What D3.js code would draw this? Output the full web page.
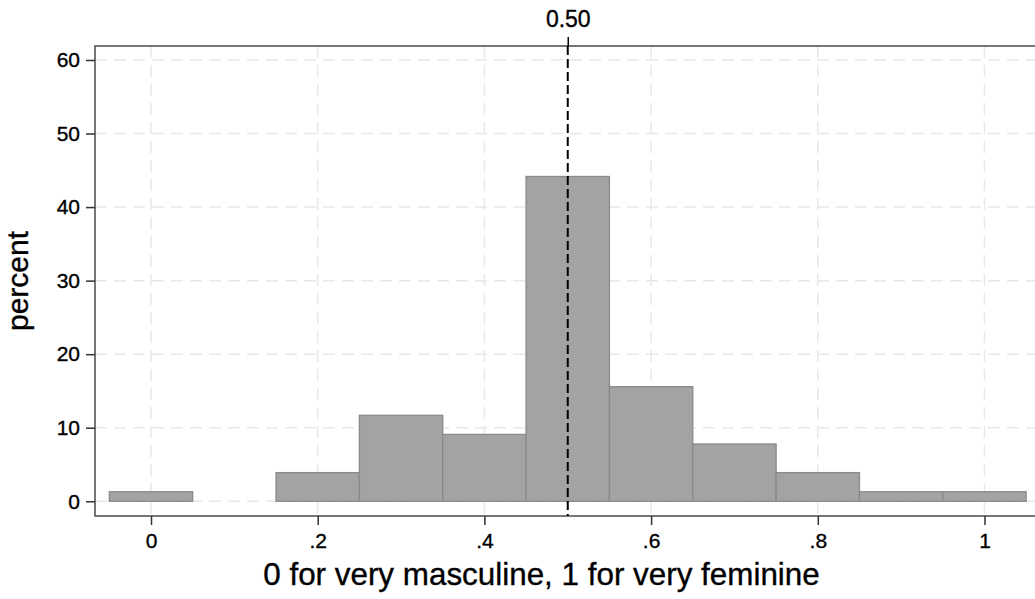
<!DOCTYPE html>
<html>
<head>
<meta charset="utf-8">
<script src="https://cdn.jsdelivr.net/npm/d3@7"></script>
<style>
  html, body { margin: 0; padding: 0; background: #fff; }
  svg { display: block; font-family: Arial, "Liberation Sans", Helvetica, sans-serif; }
  svg text { stroke: #000; stroke-width: 0.35px; }
</style>
</head>
<body>
<svg id="chart" width="1035" height="599"></svg>
<script>
// ---- data ----
const binCenters = [0, 0.2, 0.3, 0.4, 0.5, 0.6, 0.7, 0.8, 0.9, 1.0];
const percents   = [1.30, 3.90, 11.69, 9.09, 44.16, 15.58, 7.79, 3.90, 1.30, 1.30];
const binWidth = 0.1;
const xTickValues = [0, 0.2, 0.4, 0.6, 0.8, 1.0];
const xTickLabels = ["0", ".2", ".4", ".6", ".8", "1"];
const yTickValues = [0, 10, 20, 30, 40, 50, 60];
const refValue = 0.5;
const refLabel = "0.50";
const xTitle = "0 for very masculine, 1 for very feminine";
const yTitle = "percent";

// ---- layout ----
const svg = d3.select("#chart");
const L = 95, R = 1036, T = 46, B = 516;
const FONT = "Arial, 'Liberation Sans', Helvetica, sans-serif";

const x = d3.scaleLinear().domain([-0.0672, 1.0606]).range([L, 1035]);
const y = d3.scaleLinear().domain([-2, 61.9]).range([B, T]);

// grid
const grid = svg.append("g");
grid.selectAll("line.h").data(yTickValues).join("line")
  .attr("x1", L).attr("x2", R)
  .attr("y1", d => y(d)).attr("y2", d => y(d))
  .attr("stroke", "#e8e8e8").attr("stroke-width", 1.5)
  .attr("stroke-dasharray", "12,7");
grid.selectAll("line.v").data(xTickValues).join("line")
  .attr("x1", d => x(d)).attr("x2", d => x(d))
  .attr("y1", T).attr("y2", B)
  .attr("stroke", "#e8e8e8").attr("stroke-width", 1.5)
  .attr("stroke-dasharray", "12,7");

// bars
svg.append("g").selectAll("rect").data(binCenters).join("rect")
  .attr("x", d => x(d - binWidth / 2))
  .attr("width", d => x(d + binWidth / 2) - x(d - binWidth / 2))
  .attr("y", (d, i) => y(percents[i]))
  .attr("height", (d, i) => y(0) - y(percents[i]))
  .attr("fill", "#a3a3a3")
  .attr("stroke", "#8a8a8a")
  .attr("stroke-width", 1.3);

// frame
svg.append("rect")
  .attr("x", L).attr("y", T).attr("width", R + 5 - L).attr("height", B - T)
  .attr("fill", "none").attr("stroke", "#4a4a4a").attr("stroke-width", 1.5);

// y axis
const yAxis = svg.append("g").attr("transform", `translate(${L},0)`)
  .call(d3.axisLeft(y).tickValues(yTickValues).tickFormat(d3.format("d")).tickSize(9).tickPadding(6));
yAxis.select(".domain").remove();
yAxis.selectAll(".tick line").attr("stroke", "#333").attr("stroke-width", 1.5);
yAxis.selectAll(".tick text").attr("font-size", 21).attr("fill", "#000")
  .attr("font-family", FONT);

// x axis
const xAxis = svg.append("g").attr("transform", `translate(0,${B})`)
  .call(d3.axisBottom(x).tickValues(xTickValues)
    .tickFormat((d, i) => xTickLabels[i]).tickSize(9).tickPadding(8));
xAxis.select(".domain").remove();
xAxis.selectAll(".tick line").attr("stroke", "#333").attr("stroke-width", 1.5);
xAxis.selectAll(".tick text").attr("font-size", 21).attr("fill", "#000")
  .attr("font-family", FONT);

// reference line
svg.append("line")
  .attr("x1", x(refValue)).attr("x2", x(refValue))
  .attr("y1", T).attr("y2", B)
  .attr("stroke", "#000").attr("stroke-width", 2)
  .attr("stroke-dasharray", "9,4");
const topAxis = svg.append("g").attr("transform", `translate(0,${T})`)
  .call(d3.axisTop(x).tickValues([refValue]).tickFormat(() => refLabel).tickSize(9).tickPadding(10));
topAxis.select(".domain").remove();
topAxis.selectAll(".tick line").attr("stroke", "#000").attr("stroke-width", 1.5);
topAxis.selectAll(".tick text").attr("font-size", 23).attr("fill", "#000")
  .attr("font-family", FONT);

// titles
svg.append("text")
  .attr("x", (263 + 820) / 2).attr("y", 585)
  .attr("text-anchor", "middle")
  .attr("font-size", 31.4).attr("fill", "#000")
  .text(xTitle);
svg.append("text")
  .attr("transform", `translate(28,281) rotate(-90)`)
  .attr("text-anchor", "middle")
  .attr("font-size", 30).attr("fill", "#000")
  .text(yTitle);
</script>
</body>
</html>
